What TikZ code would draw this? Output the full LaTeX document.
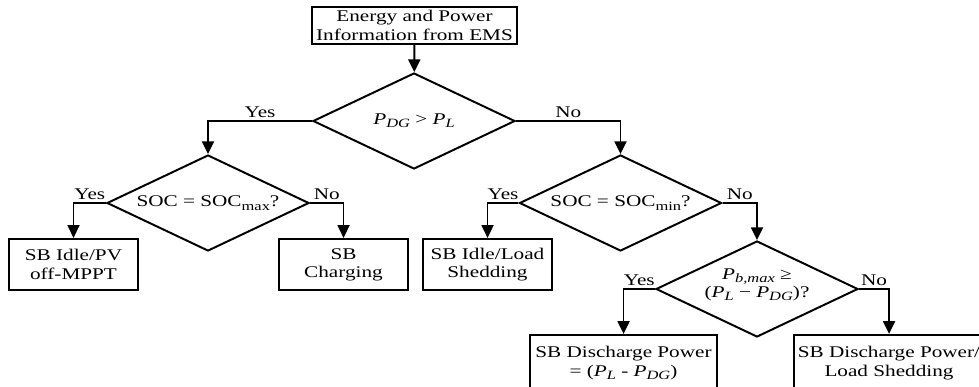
\documentclass[tikz,border=0pt]{standalone}
\usepackage{fontspec}
\setmainfont{Liberation Serif}[FakeStretch=1.3]
\usetikzlibrary{positioning, shapes.geometric, arrows.meta}
\newcommand{\lowtxt}[1]{\raisebox{-0.45ex}{\fontsize{9}{9}\selectfont #1}}

\begin{document}
\begin{tikzpicture}[x=0.025cm, y=-0.025cm,
    font=\fontsize{11.6}{13}\selectfont,
    flowline/.style={line width=1.4pt, -{Triangle[length=9pt, width=8.5pt]}},
    infobox/.style={draw, line width=1.6pt, align=center, inner sep=0pt,
        minimum width=3.225cm, minimum height=1.275cm},
    decision/.style={draw, diamond, aspect=2.1, line width=1.4pt, inner sep=0pt,
        minimum width=5.05cm, minimum height=2.4cm},
    answer/.style={anchor=base, yshift=2.5pt, inner sep=0pt}]
    \useasboundingbox (0,0) rectangle (979,387);
    \clip (0,0) rectangle (979,387);

    % Start
    \node[infobox, minimum width=5.125cm, minimum height=0.925cm] (info) at (414.5,25.5)
        {Energy and Power\\Information from EMS};

    % Decisions
    \node[decision] (pdg) at (414,121)
        {\textit{P}\lowtxt{\textit{DG}} > \textit{P}\lowtxt{\textit{L}}};
    \node[decision] (socmax) at (208,203) {SOC = SOC\lowtxt{max}?};
    \node[decision] (socmin) at (620.5,203) {SOC = SOC\lowtxt{min}?};
    \node[decision] (pbmax) at (757,289)
        {\smash{\begin{tabular}{@{}c@{}}\textit{P}\lowtxt{\textit{b,max}} ≥\\
        (\textit{P}\lowtxt{\textit{L}} − \textit{P}\lowtxt{\textit{DG}})?\end{tabular}}};

    % Actions
    \node[infobox] (pvoff) at (73.5,264.5) {SB Idle/PV\\off-MPPT};
    \node[infobox] (charge) at (343.5,264.5) {SB\\Charging};
    \node[infobox] (shed) at (487.5,264.5) {SB Idle/Load\\Shedding};
    \node[infobox, minimum width=4.675cm, minimum height=1.4cm] (dischg) at (623.5,363)
        {SB Discharge Power\\= (\textit{P}\lowtxt{\textit{L}} - \textit{P}\lowtxt{\textit{DG}})};
    \node[infobox, minimum width=4.75cm, minimum height=1.4cm] (dischgshed) at (889,363)
        {SB Discharge Power/\\Load Shedding};

    % Connectors
    \draw[flowline] (info) -- (pdg);
    \draw[flowline] (pdg.west) -| node[answer, pos=0.25] {Yes} (socmax.north);
    \draw[flowline] (pdg.east) -| node[answer, pos=0.25] {No} (socmin.north);
    \draw[flowline] (socmax.west) -| node[answer, pos=0.25] {Yes} (pvoff.north);
    \draw[flowline] (socmax.east) -| node[answer, pos=0.25] {No} (charge.north);
    \draw[flowline] (socmin.west) -| node[answer, pos=0.25] {Yes} (shed.north);
    \draw[flowline] (socmin.east) -| node[answer, pos=0.25] {No} (pbmax.north);
    \draw[flowline] (pbmax.west) -| node[answer, pos=0.25] {Yes} (dischg.north);
    \draw[flowline] (pbmax.east) -| node[answer, pos=0.25] {No} (dischgshed.north);
\end{tikzpicture}
\end{document}
